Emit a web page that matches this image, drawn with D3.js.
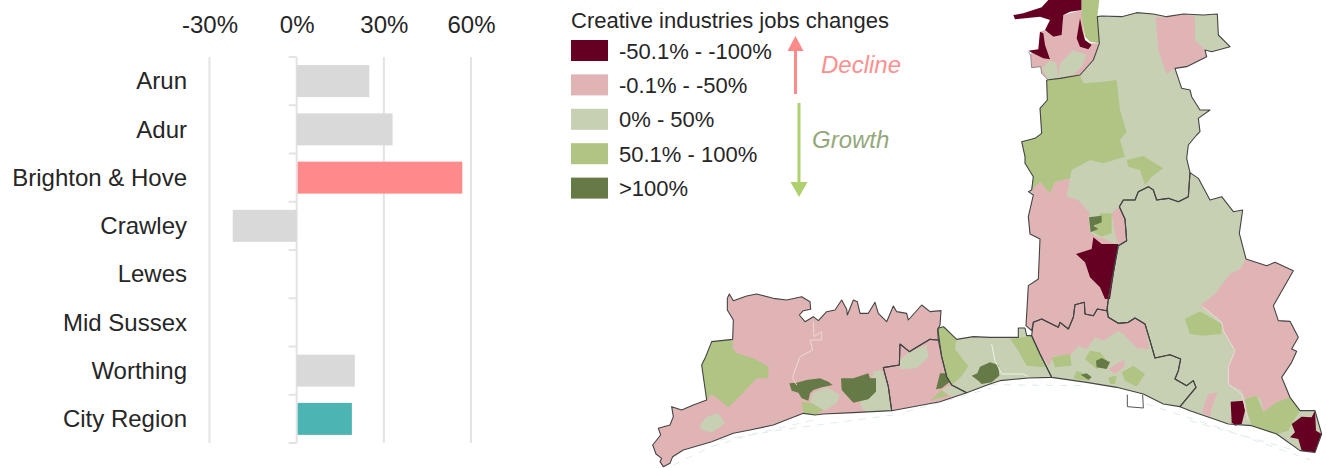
<!DOCTYPE html>
<html><head><meta charset="utf-8">
<script src="https://cdn.jsdelivr.net/npm/d3@7"></script>
<style>html,body{margin:0;padding:0;background:#fff}svg{display:block}text{font-family:"Liberation Sans",Arial,sans-serif;fill:#262626}</style>
</head><body><svg id="c" width="1326" height="468"><defs><filter id="soft" x="-5%" y="-5%" width="110%" height="110%"><feGaussianBlur stdDeviation="0.45"/></filter></defs></svg>
<script>
// ---- bar chart data
const categories=["Arun","Adur","Brighton & Hove","Crawley","Lewes","Mid Sussex","Worthing","City Region"];
const changeValues=[25,33,57,-22,null,null,20,19];
const highlight={"Brighton & Hove":"#ff8a8c","City Region":"#4cb5b3"};
const xTicks=[-30,0,30,60];
// ---- legend data
const legendTitle="Creative industries jobs changes";
const legendLabels=["-50.1% - -100%","-0.1% - -50%","0% - 50%","50.1% - 100%",">100%"];
const legendColors=["#660022","#e0b4b4","#c8d0b4","#b0c484","#667a46"];
const [MAROON,PINK,SAGE,GREEN,DARK]=legendColors;
// ---- map data: polygon vertices on three map sheets
const westOutline=[[262,85],[268,72],[280,92],[320,78],[350,72],[400,85],[440,90],[485,80],[510,95],[512,118],[490,122],[478,135],[495,155],[520,140],[535,152],[560,125],[585,120],[605,90],[620,118],[622,135],[640,90],[652,95],[660,130],[685,130],[705,97],[715,130],[740,155],[760,108],[770,125],[800,130],[805,150],[845,105],[870,125],[903,122],[900,165],[893,180],[895,210],[870,208],[830,232],[808,245],[780,222],[778,285],[730,293],[745,350],[755,422],[640,428],[550,432],[525,435],[490,430],[400,465],[330,480],[280,490],[215,515],[130,540],[98,560],[90,580],[70,590],[60,575],[65,565],[48,552],[38,525],[62,495],[55,475],[90,465],[100,440],[95,410],[125,420],[160,405],[200,390],[185,285],[195,265],[215,215],[278,208],[280,150],[262,120]];
const worthingOutline=[[780,222],[808,245],[830,232],[870,208],[895,210],[905,260],[920,320],[935,345],[980,368],[900,395],[755,422],[745,350],[730,293],[778,285]];
const westPatches=[
 [GREEN,[[278,208],[215,215],[195,265],[185,285],[200,390],[215,372],[245,395],[265,412],[300,378],[350,325],[385,325],[385,290],[340,265],[290,250],[278,235]]],
 [SAGE,[[180,465],[200,440],[235,430],[255,460],[215,488],[185,480]]],
 [SAGE,[[520,368],[560,352],[600,375],[590,400],[555,422],[525,405],[510,395]]],
 [SAGE,[[660,395],[690,375],[700,305],[725,300],[745,350],[755,422],[680,425],[665,415]]],
 [GREEN,[[485,395],[515,400],[550,420],[525,435],[490,430]]],
 [DARK,[[448,340],[470,338],[500,330],[540,325],[565,335],[578,345],[545,352],[520,360],[510,370],[505,392],[485,385],[475,368],[455,362]]],
 [DARK,[[603,325],[640,325],[685,310],[690,325],[708,325],[708,365],[685,388],[640,398],[605,360]]],
 [SAGE,[[780,270],[808,245],[860,225],[865,262],[830,295],[780,298]]],
 [GREEN,[[870,392],[905,360],[925,378],[895,385]]],
 [SAGE,[[905,360],[935,345],[980,368],[935,380]]],
 [DARK,[[900,310],[925,310],[930,335],[905,355],[888,358]]]
];
const westRiver=[[520,155],[522,200],[545,185],[545,210],[510,210],[518,240],[480,260],[465,300],[458,325],[470,345]];
const adurOutline=[[-157,283],[-140,278],[-100,316],[-50,308],[0,310],[85,310],[85,282],[105,282],[110,305],[125,305],[150,360],[185,430],[115,432],[30,440],[0,450],[-70,476],[-115,453],[-130,428],[-145,368]];
const lewesOutline=[[125,305],[130,265],[155,255],[185,270],[205,280],[210,265],[235,285],[250,250],[255,212],[283,205],[285,240],[310,245],[322,225],[350,230],[355,250],[385,268],[415,265],[435,252],[465,270],[480,320],[495,372],[540,362],[572,375],[565,410],[555,435],[590,455],[610,440],[618,460],[570,518],[520,510],[460,480],[380,460],[290,445],[185,430],[150,360]];
const wealdenOutline=[[388,-82],[400,-102],[435,-102],[445,-127],[475,-142],[490,-132],[500,-102],[535,-107],[565,-97],[595,-112],[600,-184],[625,-167],[660,-102],[695,-112],[730,-67],[758,-72],[748,-2],[768,75],[830,95],[855,85],[910,110],[850,215],[865,260],[900,262],[925,310],[905,345],[920,352],[905,385],[875,430],[900,490],[930,530],[975,530],[995,600],[975,655],[930,650],[860,600],[785,575],[715,570],[600,530],[570,518],[618,460],[610,440],[590,455],[555,435],[565,410],[572,375],[540,362],[495,372],[480,320],[465,270],[435,252],[415,265],[385,268],[355,250],[352,225],[355,195],[385,35],[410,20],[405,-45]];
const midSussexOutline=[[170,-462],[172,-402],[150,-377],[155,-302],[135,-287],[95,-277],[105,-232],[105,-212],[130,-172],[125,-132],[115,-127],[130,-117],[115,-52],[120,0],[150,15],[145,135],[115,155],[108,275],[125,290],[130,265],[155,255],[185,270],[205,280],[210,265],[235,285],[250,250],[255,212],[283,205],[285,240],[310,245],[322,225],[350,230],[355,195],[385,35],[410,20],[405,-45],[388,-82],[400,-102],[435,-102],[445,-127],[475,-142],[490,-132],[500,-102],[535,-107],[565,-97],[595,-112],[600,-184],[590,-227],[595,-267],[620,-297],[630,-307],[625,-347],[660,-372],[630,-372],[605,-412],[600,-432],[575,-437],[555,-497],[590,-502],[650,-532],[645,-552],[665,-547],[720,-562],[685,-597],[682,-660],[640,-657],[580,-660],[530,-652],[490,-660],[440,-664],[395,-652],[335,-654],[322,-652],[328,-572],[310,-522],[270,-477],[210,-467]];
const eastPatches=[
 [GREEN,[[-157,283],[-135,278],[-100,316],[-105,346],[-65,396],[-85,426],[-115,453],[-130,428],[-145,368]]],
 [GREEN,[[60,315],[125,305],[165,400],[110,395],[85,350]]],
 [DARK,[[-55,425],[-38,418],[-30,398],[0,385],[25,393],[28,425],[5,445],[-25,450],[-35,440]]],
 [PINK,[[125,300],[130,265],[155,255],[185,270],[205,280],[210,265],[235,285],[250,250],[255,212],[283,205],[285,240],[310,245],[322,225],[350,230],[355,250],[385,268],[415,265],[435,252],[465,270],[478,345],[440,342],[400,300],[385,290],[340,320],[315,310],[290,345],[265,335],[240,365],[190,365],[178,395],[150,360]]],
 [GREEN,[[185,370],[240,360],[245,395],[195,400]]],
 [GREEN,[[285,375],[300,350],[330,355],[355,385],[320,405]]],
 [DARK,[[318,380],[335,372],[360,385],[350,405],[320,400]]],
 [GREEN,[[395,415],[430,395],[465,420],[440,458],[405,440]]],
 [GREEN,[[355,430],[380,425],[375,450],[360,450]]],
 [GREEN,[[250,435],[260,410],[300,425],[300,440]]],
 [DARK,[[272,422],[290,418],[305,430],[295,437]]],
 [PINK,[[355,405],[400,378],[405,395],[375,420]]],
 [PINK,[[768,75],[830,95],[855,85],[910,110],[850,215],[865,260],[900,262],[925,310],[905,345],[920,352],[905,385],[875,430],[900,490],[860,505],[820,535],[815,500],[800,485],[765,495],[755,470],[715,450],[715,400],[735,350],[700,290],[695,265],[660,235],[630,215],[675,180],[720,120],[750,105]]],
 [GREEN,[[585,255],[630,232],[695,270],[695,300],[640,305],[600,300]]],
 [GREEN,[[765,495],[800,485],[820,535],[860,505],[900,490],[930,530],[905,570],[895,590],[860,600],[785,575],[770,530]]],
 [PINK,[[655,480],[683,475],[665,520],[660,550],[635,535]]],
 [MAROON,[[722,503],[760,500],[765,530],[755,570],[735,575],[725,565]]],
 [MAROON,[[905,570],[935,548],[965,550],[975,530],[978,590],[995,600],[985,625],[975,655],[935,650],[925,615],[900,610],[915,595]]],
 [PINK,[[125,-132],[150,-157],[180,-122],[195,-157],[240,-167],[230,-112],[265,-102],[300,-62],[295,-50],[300,-5],[320,10],[340,12],[385,35],[355,195],[350,230],[322,225],[310,245],[285,240],[283,205],[255,212],[250,250],[235,285],[210,265],[205,280],[185,270],[155,255],[130,265],[125,290],[108,275],[115,155],[145,135],[150,15],[120,0],[115,-52],[130,-117]]],
 [GREEN,[[330,-62],[365,-62],[365,-2],[335,8],[310,-5]]],
 [PINK,[[365,-62],[388,-82],[405,-45],[410,20],[385,30],[375,0]]],
 [DARK,[[297,-50],[335,-55],[335,-35],[310,-25],[325,-15],[302,-5]]],
 [MAROON,[[258,60],[305,45],[310,10],[335,30],[385,30],[360,195],[345,195],[330,160],[300,130],[285,85]]]
];
const northPatches=[
 [GREEN,[[170,240],[172,300],[150,325],[155,400],[135,415],[95,425],[105,470],[105,490],[130,530],[125,570],[150,545],[180,580],[195,545],[240,535],[245,510],[300,480],[340,490],[405,470],[390,420],[410,395],[390,330],[380,240],[340,245],[280,250],[270,225],[210,235]]],
 [GREEN,[[410,480],[460,468],[520,505],[485,530],[465,555],[450,510],[415,500]]],
 [PINK,[[497,52],[530,50],[580,42],[615,50],[615,120],[640,145],[650,170],[590,200],[555,205],[530,222],[505,150]]]
];
const crawleyOutline=[[125,155],[145,150],[150,95],[165,90],[190,110],[215,105],[220,45],[275,30],[285,130],[328,130],[310,180],[270,225],[210,235],[175,240],[155,220],[152,200],[125,203],[122,165]];
const crawleyEdge=[[115,155],[122,165],[125,203],[152,200],[155,220],[175,240]];
const crawleyPatches=[
 [SAGE,[[155,205],[180,180],[200,190],[205,235],[175,240]]],
 [SAGE,[[210,190],[250,150],[290,165],[275,200],[250,225],[205,235]]],
 [MAROON,[[70,45],[100,40],[155,22],[170,5],[175,0],[275,0],[275,30],[240,35],[220,45],[215,105],[190,110],[165,90],[180,60],[150,50],[75,58]]],
 [GREEN,[[275,0],[328,0],[322,50],[328,130],[300,125],[285,110],[275,50]]],
 [MAROON,[[260,115],[270,55],[278,95],[285,120],[305,135],[295,148],[270,140]]],
 [MAROON,[[115,152],[145,148],[150,95],[160,100],[165,135],[180,178],[160,175],[140,165]]]
];
const harbourBox=[[412,482],[412,518],[460,522],[458,482]];
const eastRiver=[[635,215],[695,265],[700,290],[735,350],[715,400],[715,450],[755,480],[775,560]];
const adurRiver=[[5,330],[15,380],[35,420],[100,420],[115,428]];
const seaDashes=[[[100,585],[215,530],[330,495],[520,450]],[[240,510],[420,480],[760,435]],[[800,425],[1050,355]]];
const seaDashesEast=[[[0,452],[290,455]],[[470,510],[700,585],[960,678]],[[600,560],[900,645]]];

const svg=d3.select("#c");
// ---- bars
const x=d3.scaleLinear().domain([-30,60]).range([209.5,471]);
const y=d3.scaleBand().domain(categories).range([57,443]).paddingInner(0.337).paddingOuter(0.168);
const axisTop=d3.axisTop(x).tickValues(xTicks).tickFormat(d=>d+"%").tickSize(0).tickPadding(0);
const gx=svg.append("g").attr("transform","translate(0,33)").call(axisTop);
gx.select(".domain").remove();
gx.selectAll("text").attr("font-size",24).attr("font-family","Liberation Sans").attr("fill","#262626");
svg.append("g").selectAll("line").data(xTicks).join("line")
 .attr("x1",d=>x(d)).attr("x2",d=>x(d)).attr("y1",57).attr("y2",443).attr("stroke","#e3e3e3").attr("stroke-width",2);
const sepY=d3.range(categories.length+1).map(i=>57+i*y.step());
svg.append("g").selectAll("line").data(sepY).join("line")
 .attr("x1",x(0)-8).attr("x2",x(0)).attr("y1",d=>d).attr("y2",d=>d).attr("stroke","#e3e3e3").attr("stroke-width",2);
const rows=categories.map((c,i)=>({c,v:changeValues[i]})).filter(d=>d.v!==null);
svg.append("g").selectAll("rect").data(rows).join("rect")
 .attr("x",d=>Math.min(x(0),x(d.v))+(highlight[d.c]?1:0))
 .attr("width",d=>Math.abs(x(d.v)-x(0))-(highlight[d.c]?1:0))
 .attr("y",d=>y(d.c)).attr("height",y.bandwidth())
 .attr("fill",d=>highlight[d.c]||"#d9d9d9");
const gy=svg.append("g").attr("transform","translate(187,0.5)").call(d3.axisLeft(y).tickSize(0).tickPadding(0));
gy.select(".domain").remove();
gy.selectAll("text").attr("font-size",24).attr("font-family","Liberation Sans").attr("fill","#262626");
// ---- legend
svg.append("text").attr("x",571).attr("y",28).attr("font-size",22).text(legendTitle);
const leg=svg.append("g").selectAll("g").data(legendLabels).join("g")
 .attr("transform",(d,i)=>`translate(571,${40+i*34.4})`);
leg.append("rect").attr("width",37).attr("height",21).attr("fill",(d,i)=>legendColors[i]);
leg.append("text").attr("x",48).attr("y",18.5).attr("font-size",22).text(d=>d);
function arrow(xc,y0,yTip,hw,hl,col){
 const dir=yTip<y0?1:-1;
 svg.append("line").attr("x1",xc).attr("x2",xc).attr("y1",y0).attr("y2",yTip+dir*hl).attr("stroke",col).attr("stroke-width",3);
 svg.append("path").attr("d",d3.line()([[xc,yTip],[xc-hw,yTip+dir*hl],[xc+hw,yTip+dir*hl]])+"Z").attr("fill",col);
}
arrow(795.5,94,36,8,15,"#ff8a8a");
arrow(799,103,197,8.5,15,"#afd06e");
svg.append("text").attr("x",821).attr("y",73).attr("font-size",24).attr("font-style","italic").style("fill","#ff8f8f").text("Decline");
svg.append("text").attr("x",812).attr("y",148).attr("font-size",24).attr("font-style","italic").style("fill","#94a87c").text("Growth");
// ---- map
const sheets={
 A:[d3.scaleLinear().domain([0,1050]).range([640,990]),d3.scaleLinear().domain([0,594]).range([270,468])],
 B:[d3.scaleLinear().domain([0,1008]).range([990,1326]),d3.scaleLinear().domain([0,702]).range([0,234])],
 C:[d3.scaleLinear().domain([0,1008]).range([990,1326]),d3.scaleLinear().domain([0,702]).range([234,468])]
};
const pathOf=s=>d3.line().x(d=>sheets[s][0](d[0])).y(d=>sheets[s][1](d[1]));
const map=svg.append("g").attr("filter","url(#soft)");
function lines(s,list,col,w,dash){
 map.append("g").selectAll("path").data(list).join("path").attr("d",pathOf(s)).attr("fill","none")
  .attr("stroke",col).attr("stroke-width",w).attr("stroke-dasharray",dash||null).attr("stroke-linejoin","round");
}
lines("A",seaDashes,"#dfeaee",1,"7 7");
lines("C",seaDashesEast,"#dfeaee",1,"7 7");
function fills(s,list){
 map.append("g").selectAll("path").data(list).join("path").attr("d",d=>pathOf(s)(d[1])+"Z").attr("fill",d=>d[0]);
}
fills("A",[[PINK,westOutline],[PINK,worthingOutline]]);
fills("C",[[SAGE,adurOutline],[SAGE,lewesOutline],[SAGE,wealdenOutline],[SAGE,midSussexOutline]]);
fills("B",[[PINK,crawleyOutline]]);
fills("A",westPatches);
fills("C",eastPatches);
fills("B",northPatches);
fills("B",crawleyPatches);
lines("A",[westRiver],"#efd8d8",1);
lines("C",[eastRiver],"#efd8d8",1);
lines("C",[adurRiver],"#eef2e6",1);
const closed=a=>a.concat([a[0]]);
lines("A",[westOutline,worthingOutline].map(closed),"#444",1.1);
lines("C",[adurOutline,lewesOutline,wealdenOutline,midSussexOutline].map(closed),"#444",1.1);
lines("B",[crawleyEdge],"#777",0.8);
lines("C",[harbourBox],"#555",1);
</script></body></html>
